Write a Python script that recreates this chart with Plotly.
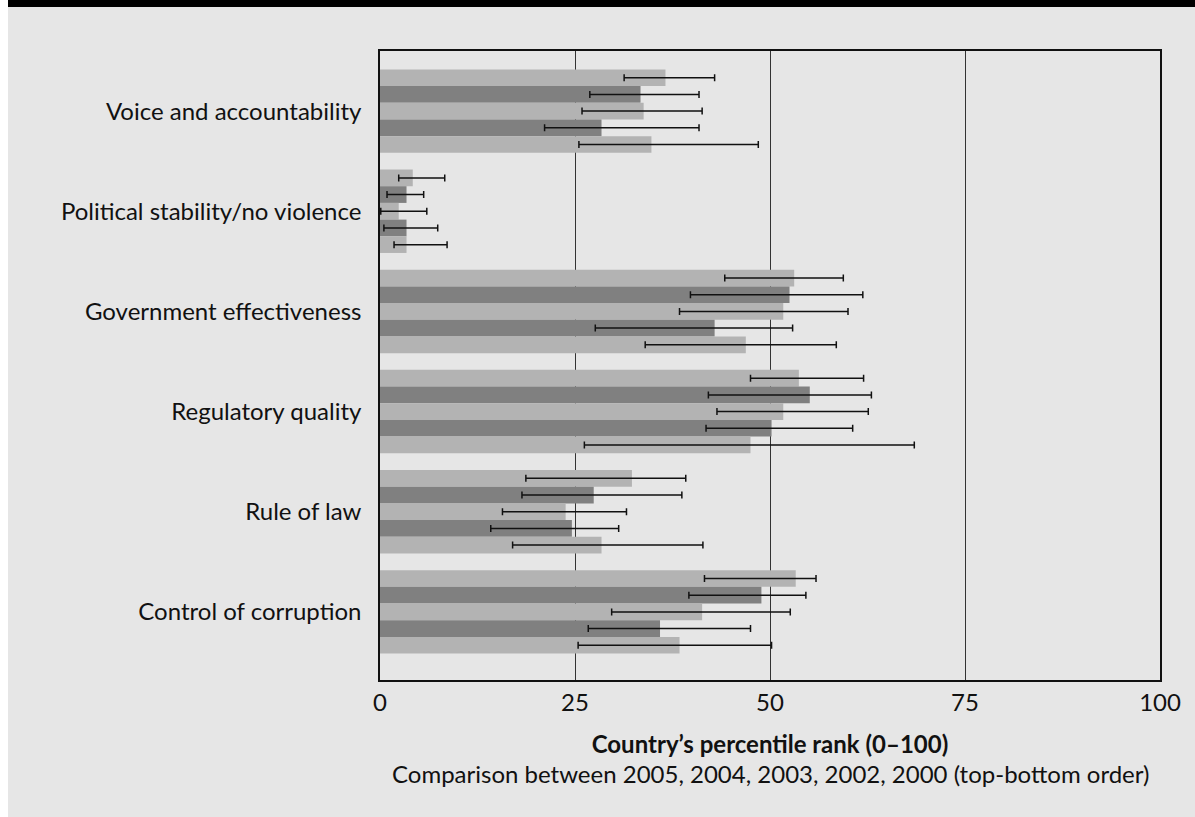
import plotly.graph_objects as go

categories = ["Voice and accountability", "Political stability/no violence",
              "Government effectiveness", "Regulatory quality",
              "Rule of law", "Control of corruption"]
years = ["2005", "2004", "2003", "2002", "2000"]

# percentile rank per year (order of categories above)
val_2005 = [36.6, 4.2, 53.1, 53.7, 32.3, 53.3]
val_2004 = [33.4, 3.4, 52.5, 55.1, 27.4, 48.9]
val_2003 = [33.8, 2.4, 51.7, 51.7, 23.8, 41.3]
val_2002 = [28.4, 3.4, 42.9, 50.2, 24.6, 35.9]
val_2000 = [34.8, 3.4, 46.9, 47.5, 28.4, 38.4]

# lower / upper bounds of the confidence intervals
lo_2005 = [31.3, 2.4, 44.2, 47.5, 18.7, 41.6]
hi_2005 = [42.9, 8.3, 59.4, 62.0, 39.2, 55.9]
lo_2004 = [26.9, 0.9, 39.8, 42.1, 18.2, 39.6]
hi_2004 = [40.9, 5.6, 61.9, 63.0, 38.7, 54.6]
lo_2003 = [25.9, 0.1, 38.4, 43.2, 15.7, 29.7]
hi_2003 = [41.3, 6.0, 60.0, 62.6, 31.6, 52.6]
lo_2002 = [21.1, 0.5, 27.6, 41.8, 14.2, 26.7]
hi_2002 = [40.9, 7.4, 52.9, 60.6, 30.6, 47.5]
lo_2000 = [25.5, 1.8, 34.0, 26.2, 17.0, 25.4]
hi_2000 = [48.5, 8.6, 58.5, 68.5, 41.4, 50.2]

x_ticks = [0, 25, 50, 75, 100]
x_title = "Country’s percentile rank (0–100)"
x_subtitle = "Comparison between 2005, 2004, 2003, 2002, 2000 (top-bottom order)"

series = [
    (val_2005, lo_2005, hi_2005),
    (val_2004, lo_2004, hi_2004),
    (val_2003, lo_2003, hi_2003),
    (val_2002, lo_2002, hi_2002),
    (val_2000, lo_2000, hi_2000),
]
colors = ["#b3b3b3", "#808080", "#b3b3b3", "#808080", "#b3b3b3"]

FONT = "Lato"
FS = 24
W, H = 1187, 817
L, R, T, B = 372, 35, 51, 137
PW, PH = W - L - R, H - T - B

fig = go.Figure()
for name, (v, lo, hi), c in zip(years, series, colors):
    fig.add_trace(go.Bar(
        y=categories, x=v, orientation="h", name=name,
        marker=dict(color=c, line=dict(width=0)),
        error_x=dict(type="data", symmetric=False,
                     array=[h - a for h, a in zip(hi, v)],
                     arrayminus=[a - l for a, l in zip(v, lo)],
                     color="#111111", thickness=1.5, width=3.5),
        hoverinfo="x+y+name",
    ))

fig.update_layout(
    width=W, height=H,
    barmode="group", bargap=0.167, bargroupgap=0,
    showlegend=False,
    paper_bgcolor="#e6e6e6", plot_bgcolor="#e6e6e6",
    margin=dict(l=L, r=R, t=T, b=B),
    font=dict(family=FONT, size=FS, color="#111111"),
    xaxis=dict(range=[0, 100], tickvals=x_ticks, ticktext=[str(t) for t in x_ticks],
               showgrid=True, gridcolor="#333333", gridwidth=1,
               showline=True, linecolor="#111111", linewidth=1.5, mirror=True,
               zeroline=False, ticks="", tickfont=dict(size=FS),
               title=dict(text="<b>" + x_title + "</b>", font=dict(size=FS), standoff=22)),
    yaxis=dict(type="category", categoryorder="array", categoryarray=categories,
               range=[5.68, -0.6], showgrid=False,
               showline=True, linecolor="#111111", linewidth=1.5, mirror=True,
               ticks="", ticklabelstandoff=12, tickfont=dict(size=FS)),
    annotations=[dict(text=x_subtitle, xref="paper", yref="paper",
                      x=0.5, y=1 - (773 - T) / PH, xanchor="center", yanchor="middle",
                      showarrow=False, font=dict(size=FS))],
    shapes=[dict(type="rect", xref="paper", yref="paper",
                 x0=-L / PW, x1=1 + R / PW, y0=1 + (T - 7) / PH, y1=1 + T / PH,
                 fillcolor="#000000", line=dict(width=0), layer="above")],
)

fig.write_html(
    "out.html",
    post_script="document.body.style.margin='0 0 0 8px';"
                "document.body.style.overflow='hidden';"
                "document.documentElement.style.overflow='hidden';",
)
